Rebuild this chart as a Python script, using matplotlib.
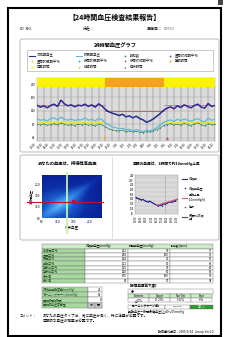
import matplotlib

matplotlib.use("Agg")

import matplotlib.pyplot as plt
import numpy as np
from matplotlib.colors import LinearSegmentedColormap
from matplotlib.patches import FancyBboxPatch, Rectangle

plt.rcParams["font.family"] = ["Noto Sans CJK JP", "DejaVu Sans"]

W, H = 241, 337

# ---- 24h chart data (hours after 12:00, every 30 min) ----
MEAS_HOURS = [0, 0.5, 1, 1.5, 2, 2.5, 3, 3.5, 4, 4.5, 5, 5.5, 6, 6.5, 7, 7.5, 8, 8.5, 9, 9.5,
              10, 10.5, 11, 11.5, 12, 12.5, 13, 13.5, 14, 14.5, 15, 15.5, 16, 16.5, 17, 17.5, 18,
              18.5, 19, 19.5, 20, 20.5, 21, 21.5, 22, 22.5, 23, 23.5, 24, 24.5, 25, 25.5, 26]
SYSTOLIC = [137, 131, 135, 129, 136, 140, 133, 152, 141, 135, 138, 132, 137, 135, 140, 133, 138, 131, 141, 134,
            124, 117, 113, 110, 106, 110, 102, 105, 99, 104, 97, 93, 86, 90, 96, 104, 112,
            122, 128, 132, 126, 135, 130, 138, 133, 129, 136, 140, 131, 128, 142, 133, 136]
DIASTOLIC = [96, 92, 94, 90, 97, 99, 93, 101, 95, 92, 96, 91, 94, 93, 99, 92, 95, 90, 97, 94,
             84, 78, 72, 70, 66, 68, 63, 65, 60, 64, 61, 58, 62, 60, 64, 70, 78,
             86, 90, 93, 88, 95, 91, 96, 92, 89, 94, 97, 90, 87, 98, 92, 95]
PULSE = [80, 78, 81, 77, 79, 82, 78, 84, 80, 77, 79, 76, 80, 78, 82, 77, 79, 75, 81, 78,
         72, 66, 63, 61, 60, 62, 58, 60, 57, 59, 56, 55, 58, 57, 60, 64, 70,
         76, 79, 82, 78, 80, 77, 83, 79, 76, 81, 84, 78, 75, 82, 79, 80]
HOUR_LABELS = ["12:00", "13:00", "14:00", "15:00", "16:00", "17:00", "18:00", "19:00", "20:00",
               "21:00", "22:00", "23:00", "0:00", "1:00", "2:00", "3:00", "4:00", "5:00", "6:00",
               "7:00", "8:00", "9:00", "10:00", "11:00", "12:00", "13:00", "14:00"]
AWAKE_SPANS = [(0, 10), (18.5, 26)]
SLEEP_SPANS = [(10, 18.5)]
DAY_SYS_MEAN = 137
NIGHT_SYS_MEAN = 121
DAY_DIA_MEAN = 86
BEDTIME, WAKETIME = 10, 19

# ---- office vs 24h ----
OFFICE_SBP, ABPM_SBP = 160, 132
OFFICE_LIMIT, ABPM_LIMIT = 140, 130

# ---- morning surge ----
MORNING_HOURS = [0, 0.33, 0.67, 1, 1.33, 1.67, 2, 2.33, 2.67, 3, 3.33, 3.67, 4, 4.33, 4.67,
                 5, 5.33, 5.67, 6, 6.33, 6.67, 7, 7.33, 7.67, 8]
MORNING_SBP = [146, 142, 140, 136, 138, 133, 130, 128, 131, 126, 122, 118, 114, 110, 116,
               112, 120, 118, 122, 125, 128, 126, 130, 133, 138]
SURGE_X = [4, 8]
SURGE_Y = [113, 139]
MORNING_LABELS = ["02:00", "03:00", "04:00", "05:00", "06:00", "07:00", "08:00", "09:00", "10:00"]
WAKE_MORNING = 5.6

# ---- tables ----
ROW_NAMES = ["24時間平均", "昼間平均", "夜間平均", "早朝平均", "起床前平均", "起床後平均", "最大値", "最小値"]
COL_NAMES = ["収縮期血圧(mmHg)", "拡張期血圧(mmHg)", "脈拍数(bpm)"]
SYS_TABLE = [132, 144, 124, 121, 135, 128, 155, 81]
DIA_TABLE = [90, 100, 72, 80, 90, 80, 100, 57]
PUL_TABLE = [77, 79, 67, 66, 80, 69, 90, 54]
EXTRA_NAMES = ["収縮期早朝変動(mmHg)", "モーニングサージ(mmHg)", "睡眠時間(時間)", "睡眠時血圧変動型"]
EXTRA_VALUES = ["23", "40", "8", ""]
DIP_NAMES = ["Extreme", "Dipper", "Non-Dip", "Riser"]
DIP_RANGES = ["≧20%", "10~20%", "0~10%", "<0%"]


fig = plt.figure(figsize=(W / 100, H / 100), dpi=100)
fig.patch.set_facecolor("white")


def px_axes(x0, y0, x1, y1):
    return fig.add_axes([x0 / W, 1 - y1 / H, (x1 - x0) / W, (y1 - y0) / H])


page = px_axes(0, 0, W, H)
page.set_xlim(0, W)
page.set_ylim(H, 0)
page.axis("off")

# page frame
page.add_patch(Rectangle((8, 8), 213, 328, fill=False, ec="black", lw=1.5))
page.add_patch(Rectangle((218, 0), 5, 5, color="#444444", lw=0))

page.text(115, 17, "【24時間血圧検査結果報告】", ha="center", va="center", fontsize=5.0, weight="bold")
page.text(20, 29, "ID  NO.", va="center", fontsize=2.8)
page.text(83, 29, "氏名：", va="center", fontsize=2.9)
page.text(147, 29, "測定日：", va="center", fontsize=2.9, weight="bold")
page.text(164, 29, "2007/5/9", va="center", fontsize=1.9, color="#555555")

# graph box
page.add_patch(FancyBboxPatch((20, 39), 199, 113, boxstyle="round,pad=0,rounding_size=2",
                              ec="#B0B0B0", fc="none", lw=0.6))
page.text(115, 45, "24時間血圧グラフ", ha="center", va="center", fontsize=3.8, weight="bold")

# legend
page.add_patch(Rectangle((27, 50), 186, 21, ec="#A0A0A0", fc="white", lw=0.4))
legend_items = [
    ("収縮期血圧", "line", "#2E2E99"), ("拡張期血圧", "line", "#5FB8E0"),
    ("脈拍数", "o", "#3A8A5A"), ("昼間収縮期平均", "o", "#6A4AB0"),
    ("昼間拡張期平均", "o", "#E0D040"), ("夜間拡張期平均", "o", "#40A0B0"),
    ("夜間収縮期平均", "o", "#A06060"), ("睡眠時間", "s", "#F0A020"),
    ("覚醒時間", "s", "#F8F000"), ("就寝時間", "^", "#F0A020"), ("起床時間", "^", "#C03080"),
]
col_x = [29, 76, 122, 167]
row_y = [55.5, 61, 66.5]
for i, (label, kind, color) in enumerate(legend_items):
    lx, ly = col_x[i % 4], row_y[i // 4]
    if kind == "line":
        page.plot([lx, lx + 6], [ly, ly], color=color, lw=0.8)
    else:
        page.plot(lx + 3, ly, kind, color=color, ms=1.3, mew=0)
    page.text(lx + 8, ly, label, va="center", fontsize=2.4, color="#222222")

# main 24h chart
ax = px_axes(37, 78, 215, 141)
ax.set_facecolor("#DCDCDC")
ax.set_xlim(0, 26)
ax.set_ylim(30, 218)
for start, end in AWAKE_SPANS:
    ax.bar(start, 26, width=end - start, bottom=192, align="edge", color="#FFF200", lw=0, zorder=3)
for start, end in SLEEP_SPANS:
    ax.bar(start, 26, width=end - start, bottom=192, align="edge", color="#F7A21B", lw=0, zorder=3)
ax.plot([AWAKE_SPANS[0][0], AWAKE_SPANS[0][1]], [DAY_SYS_MEAN] * 2, color="#D070A0", lw=0.6)
ax.plot([AWAKE_SPANS[1][0], AWAKE_SPANS[1][1]], [DAY_SYS_MEAN] * 2, color="#D070A0", lw=0.6)
ax.plot([SLEEP_SPANS[0][0], SLEEP_SPANS[0][1]], [NIGHT_SYS_MEAN] * 2, color="#A06060", lw=0.6)
ax.plot([AWAKE_SPANS[0][0], AWAKE_SPANS[0][1]], [DAY_DIA_MEAN] * 2, color="#F0E040", lw=0.9)
ax.plot([AWAKE_SPANS[1][0], AWAKE_SPANS[1][1]], [DAY_DIA_MEAN] * 2, color="#F0E040", lw=0.9)
ax.plot(MEAS_HOURS, PULSE, color="#3A8A5A", lw=0.5, marker="o", ms=0.7, mew=0)
ax.plot(MEAS_HOURS, DIASTOLIC, color="#5FB8E0", lw=0.9)
ax.plot(MEAS_HOURS, SYSTOLIC, color="#2A2A90", lw=1.1)
ax.plot(BEDTIME, 40, "s", color="#F7A21B", ms=1.8, mew=0)
ax.plot(WAKETIME, 40, "^", color="#C03080", ms=2.0, mew=0)
ax.set_xticks(range(len(HOUR_LABELS)))
ax.set_xticklabels(HOUR_LABELS, rotation=45, ha="right", fontsize=1.9)
ax.set_yticks([40, 80, 120, 160, 200])
ax.tick_params(axis="y", labelsize=2.1)
ax.tick_params(length=0, pad=1)
ax.grid(axis="x", color="#7A7A7A", lw=0.35)
ax.grid(axis="y", color="#9A9A9A", lw=0.3)
ax.set_axisbelow(True)
for s in ax.spines.values():
    s.set_color("#909090")
    s.set_linewidth(0.3)

# lower panel box
page.add_patch(FancyBboxPatch((20, 155), 199, 85, boxstyle="round,pad=0,rounding_size=2",
                              ec="#B0B0B0", fc="none", lw=0.6))
page.plot([112, 112], [157, 238], color="#C8C8C8", lw=0.4)
page.text(67, 163, "あなたの血圧は、持続性高血圧", ha="center", va="center", fontsize=3.1, weight="bold")
page.text(167, 164, "早朝の血圧は、1時間で約10mmHg上昇", ha="center", va="center", fontsize=2.7, weight="bold")

# office vs 24h panel
axl = px_axes(42, 175, 102, 218)
grid_x, grid_y = np.meshgrid(np.linspace(0, 1, 80), np.linspace(0, 1, 80))
shade = np.hypot(grid_x - 0.3, grid_y - 0.3) - 0.35 * np.clip(1 - np.abs(grid_x - grid_y) * 4, 0, 1)
blues = LinearSegmentedColormap.from_list("bp", ["#62BCF4", "#2A78E0", "#0C2FA8", "#0A1C90"])
axl.imshow(shade, cmap=blues, extent=[60, 250, 60, 250], origin="lower", aspect="auto")
axl.set_xlim(60, 250)
axl.set_ylim(60, 250)
axl.axvline(OFFICE_LIMIT, ymin=-0.35, ymax=1.05, color="#C8F0A0", lw=1.3, clip_on=False)
axl.axhline(ABPM_LIMIT, xmin=-0.25, xmax=1.02, color="#C0103A", lw=0.8, clip_on=False)
axl.plot(OFFICE_SBP, ABPM_SBP, "s", color="#C0103A", ms=2.2, mew=0)
axl.set_xticks([60, 110, 160, 210])
axl.set_yticks([60, 110, 160, 210])
axl.tick_params(length=0, pad=1.5, labelsize=2.4)
axl.set_xlabel("外来血圧", fontsize=2.5, labelpad=1)
axl.set_ylabel("24時間血圧", fontsize=2.1, labelpad=1)
for s in axl.spines.values():
    s.set_visible(False)

# morning surge panel
axr = px_axes(135, 175, 178, 214)
axr.set_facecolor("#D4D4D4")
axr.set_xlim(-0.2, 8.2)
axr.set_ylim(76, 242)
axr.set_yticks([80, 100, 120, 140, 160, 180, 200, 220, 240])
axr.set_xticks(range(len(MORNING_LABELS)))
axr.set_xticklabels(MORNING_LABELS, rotation=90, fontsize=1.8)
axr.tick_params(axis="y", labelsize=1.8)
axr.tick_params(length=0, pad=1)
axr.grid(axis="y", color="#F2F2F2", lw=0.35)
axr.axvline(WAKE_MORNING, color="#909090", lw=0.4, ls=(0, (2, 1)))
axr.plot(MORNING_HOURS, MORNING_SBP, color="#2A2A8C", lw=0.9, marker="o", ms=0.8, mew=0)
axr.plot(SURGE_X, SURGE_Y, color="#E06080", lw=0.8)
for s in axr.spines.values():
    s.set_color("#909090")
    s.set_linewidth(0.3)

surge_legend = [
    ("収縮期", "line", "#2A2A8C"), ("収縮期血圧", "o", "#3050B0"),
    ("早朝上昇\n(10mmHg/h)", "line", "#E06080"), ("起床", "o", "#E03070"),
    ("多項式(収縮\n期)", "line", "#505050"),
]
for (label, kind, color), ly in zip(surge_legend, [179, 188, 197.5, 207, 217]):
    if kind == "line":
        page.plot([182, 187], [ly, ly], color=color, lw=0.8)
    else:
        page.plot(184.5, ly, kind, color=color, ms=1.2, mew=0)
    page.text(189, ly, label, va="center", fontsize=2.1, linespacing=1.0)

# summary table
header_fill, label_fill, grid_col = "#CDEBC8", "#A8D8A0", "#707070"
col_edges = [42, 85, 128, 170, 213]
top, head_h, row_h = 244, 4.5, 4.3
page.add_patch(Rectangle((col_edges[0], top), col_edges[-1] - col_edges[0], head_h, fc=header_fill,
                         ec=grid_col, lw=0.3))
for j, name in enumerate(COL_NAMES):
    page.text(col_edges[j + 1] + 1, top + head_h / 2, name, va="center", fontsize=2.1)
for i, name in enumerate(ROW_NAMES):
    y0 = top + head_h + i * row_h
    page.add_patch(Rectangle((col_edges[0], y0), col_edges[1] - col_edges[0], row_h, fc=label_fill,
                             ec=grid_col, lw=0.3))
    page.text(col_edges[0] + 1, y0 + row_h / 2, name, va="center", fontsize=2.2, color="#1E4E1E")
    for j, vals in enumerate([SYS_TABLE, DIA_TABLE, PUL_TABLE]):
        page.add_patch(Rectangle((col_edges[j + 1], y0), col_edges[j + 2] - col_edges[j + 1], row_h,
                                 fc="white", ec=grid_col, lw=0.3))
        page.text(col_edges[j + 2] - 1, y0 + row_h / 2, str(vals[i]), va="center", ha="right", fontsize=2.1)

# extra indicators
ex_top, ex_h = 287, 5.2
for i, (name, val) in enumerate(zip(EXTRA_NAMES, EXTRA_VALUES)):
    y0 = ex_top + i * ex_h
    page.add_patch(Rectangle((42, y0), 46, ex_h, fc=label_fill, ec=grid_col, lw=0.3))
    page.add_patch(Rectangle((88, y0), 14, ex_h, fc="white", ec=grid_col, lw=0.3))
    page.text(43, y0 + ex_h / 2, name, va="center", fontsize=2.2, color="#1E4E1E")
    page.text(101, y0 + ex_h / 2, val, va="center", ha="right", fontsize=2.1)
page.add_patch(Rectangle((88, ex_top + 3 * ex_h), 7, ex_h, fc="#C8C8C8", ec=grid_col, lw=0.3))
page.add_patch(Rectangle((95, ex_top + 3 * ex_h), 7, ex_h, fc="#C8C8C8", ec=grid_col, lw=0.3))
page.text(91.5, ex_top + 3.5 * ex_h, "夜", ha="center", va="center", fontsize=2.1)
page.text(98.5, ex_top + 3.5 * ex_h, "間", ha="center", va="center", fontsize=2.1)

# night dip table
page.text(128, 286.5, "【夜間血圧低下度】", va="center", fontsize=2.5, weight="bold")
dip_edges = [128, 149, 170, 191, 213]
page.add_patch(Rectangle((128, 289), 85, 4.5, fc="white", ec=grid_col, lw=0.3))
page.plot(132, 291.2, "o", color="black", ms=1.8, mew=0)
for j, (name, rng) in enumerate(zip(DIP_NAMES, DIP_RANGES)):
    page.add_patch(Rectangle((dip_edges[j], 293.5), 21, 4.5, fc=header_fill, ec=grid_col, lw=0.3))
    page.add_patch(Rectangle((dip_edges[j], 298), 21, 3.5, fc="white", ec=grid_col, lw=0.3))
    page.text(dip_edges[j] + 10.5, 295.8, name, ha="center", va="center", fontsize=1.9)
    page.text(dip_edges[j] + 10.5, 299.8, rng, ha="center", va="center", fontsize=1.8)

page.add_patch(Rectangle((128, 304.5), 37, 4.5, fc="white", ec=grid_col, lw=0.3))
page.text(129, 306.8, "【モーニングサージ値】", va="center", fontsize=2.1, weight="bold")
page.add_patch(Rectangle((165, 304.5), 25, 4.5, fc="white", ec=grid_col, lw=0.3))
page.text(177.5, 306.8, "40mmHg", ha="center", va="center", fontsize=1.6)
page.add_patch(Rectangle((190, 304.5), 23, 4.5, fc="#2E9A2E", ec=grid_col, lw=0.3))
page.text(201.5, 306.8, "高  い", ha="center", va="center", fontsize=2.1, color="white")
page.text(128, 312, "(早朝血圧－夜間最低血圧)≧40～55mmHg", va="center", fontsize=2.2)

# comment
page.text(20, 315.5, "コメント：", va="center", fontsize=2.4)
page.text(43, 315.5, "あなたの血圧タイプは、常に血圧が高く、特に注意が必要です。", va="center", fontsize=2.6)
page.text(43, 320.8, "定期的な血圧の検査は必要です。", va="center", fontsize=2.6)

page.text(213, 332.5, "報告書作成日：2005/9/14   Lmmp.Ver1.0", ha="right", va="center", fontsize=2.2)

fig.savefig("out.png", dpi=100, facecolor="white")
plt.close(fig)
